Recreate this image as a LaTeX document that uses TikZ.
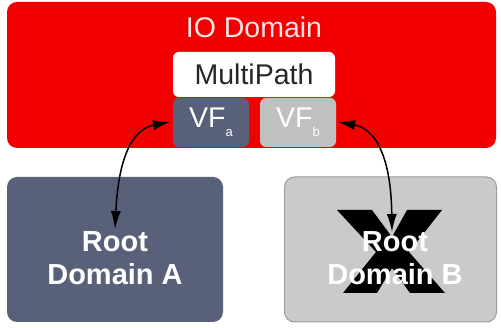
\documentclass[tikz,border=0pt]{standalone}
\usepackage{fontspec}
\setmainfont{Liberation Sans}
\usetikzlibrary{arrows.meta}
\definecolor{iored}{HTML}{F20000}
\definecolor{slate}{HTML}{596079}
\definecolor{lgray}{HTML}{BFC1BF}
\definecolor{bgray}{HTML}{C9CBC9}
\definecolor{bborder}{HTML}{9A9C9A}
\definecolor{titlewhite}{HTML}{F7E4E4}
\tikzset{
  box/.style={inner sep=0pt, rounded corners=#1},
  box/.default=10pt,
  bigtxt/.style={font=\fontsize{28.5}{28.5}\selectfont},
  roottxt/.style={font=\bfseries\fontsize{29}{33}\selectfont, text=white, align=center},
  link/.style={line width=1.5pt, {Latex[length=17pt,width=10pt]}-{Latex[length=18pt,width=10pt]}},
}
\begin{document}
\begin{tikzpicture}[x=1pt,y=-1pt]
\useasboundingbox (0,0) rectangle (501,328);
% IO domain
\node[box, fill=iored, minimum width=489pt, minimum height=146pt] (io) at (251.5,75) {};
\node[bigtxt, text=titlewhite] (iotitle) at (254,27) {IO Domain};
\node[box=6pt, fill=white, minimum width=162pt, minimum height=45pt, bigtxt, text=black!85] (mp) at (254,74.5) {MultiPath};
\node[box=6pt, fill=slate, minimum width=76pt, minimum height=49pt, bigtxt, text=white] (vfa) at (211,122.5) {VF\raisebox{-9pt}{\fontsize{13}{13}\selectfont a}};
\node[box=6pt, fill=lgray, minimum width=76pt, minimum height=49pt, bigtxt, text=white] (vfb) at (298,122.5) {VF\raisebox{-9pt}{\fontsize{13}{13}\selectfont b}};
% root domains
\node[box, fill=slate, minimum width=216pt, minimum height=145pt] (ra) at (115,249.5) {};
\node[box, fill=bgray, draw=bborder, line width=1pt, minimum width=212pt, minimum height=145pt] (rb) at (390.5,249.5) {};
% X
\fill[black] (337,210) -- (372,210) -- (392,237) -- (407,210) -- (442,210) -- (409,252)
  -- (445,293) -- (410,293) -- (392,268) -- (377,293) -- (343,293) -- (376,252) -- cycle;
\node[roottxt] (rat) at (115,258) {Root\\Domain A};
\node[roottxt] (rbt) at (395,258) {Root\\Domain B};
% arrows
\coordinate (a1) at (170,122);
\coordinate (a2) at (115,229);
\coordinate (b1) at (338,122);
\coordinate (b2) at (392,232);
\draw[link] (a1) .. controls (138,128) and (119,146) .. (a2);
\draw[link] (b1) .. controls (372,128) and (391,150) .. (b2);
\end{tikzpicture}
\end{document}
